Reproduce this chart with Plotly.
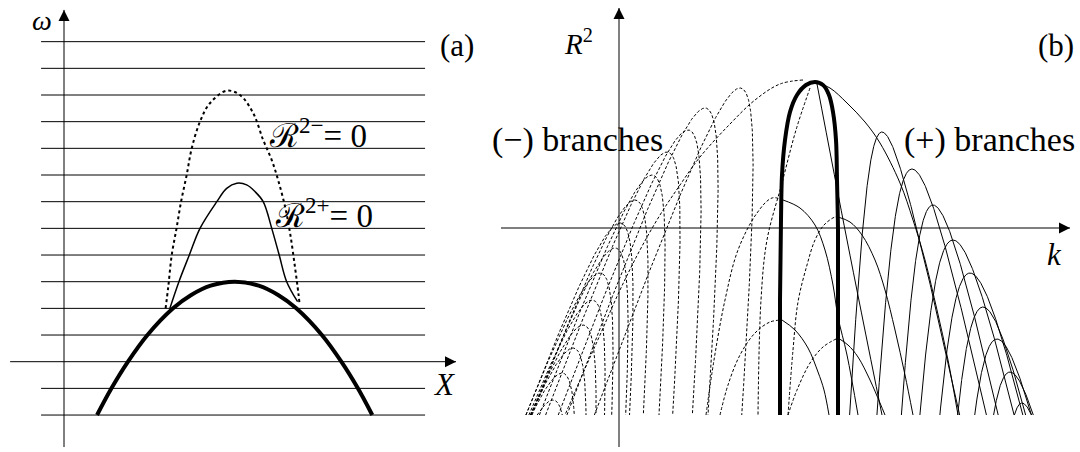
import numpy as np
import plotly.graph_objects as go

# ---------------- panel (a) data : omega vs X ----------------
levels_omega = [-2, -1, 1, 2, 3, 4, 5, 6, 7, 8, 9, 10, 11, 12]
level_X_span = [-0.86, 13.54]
axis_a_X = [-2.02, 14.7]        # X axis extent (at omega = 0)
axis_a_omega = [-3.2, 13.19]    # omega axis extent (at X = 0)

thick_X = [1.24, 1.78, 2.4, 3.13, 4.09, 4.77, 5.5, 6.4, 7.3, 8.03, 8.71, 9.67, 10.4, 11.02, 11.56]
thick_omega = [-2, -1, 0, 1, 2, 2.5, 2.85, 3.0, 2.85, 2.5, 2, 1, 0, -1, -2]

rminus_X = [3.81, 3.91, 4.04, 4.22, 4.39, 4.60, 4.79, 5.10, 5.47, 6.10, 6.60, 7.10, 7.47, 7.79, 8.03, 8.29, 8.48, 8.66, 8.79, 8.83]
rminus_omega = [2.00, 2.81, 4.00, 5.00, 6.00, 7.00, 8.00, 9.00, 9.69, 10.16, 10.0, 9.31, 8.31, 7.56, 6.81, 5.81, 4.81, 3.56, 2.56, 2.19]

rplus_X = [3.97, 4.31, 4.70, 5.10, 5.73, 6.10, 6.48, 6.85, 7.16, 7.47, 7.79, 8.07, 8.35, 8.76]
rplus_omega = [2.0, 3.0, 4.0, 5.0, 6.0, 6.5, 6.69, 6.63, 6.38, 6.0, 5.0, 4.0, 3.0, 2.25]

# ---------------- panel (b) data : R^2 vs k ----------------
R2_bottom = -18.7
axis_b_k = [-11.8, 45.1]
axis_b_R2 = [-21.9, 22.0]
# (+) branches: peak position and steep-leg position
plus_peak_k = [26.3, 29.3, 31.4, 33.4, 35.1, 36.4, 37.8, 39.1, 40.3]
plus_peak_R2 = [9.6, 5.9, 2.3, -1.2, -4.5, -7.9, -11.1, -14.4, -17.5]
plus_asym_k = [24.9, 27.4, 29.6, 31.1, 32.8, 34.3, 35.6, 37.1, 38.9]
plus_legs = (-0.05, 0.21)      # slopes dk/d(-R2) of the steep and slanted legs
# (-) branches: peak position
minus_peak_k = [12.1, 8.6, 6.9, 4.8, 3.3, 1.6, 0.1, -0.4, -1.9, -2.7, -3.6, -4.6, -5.7, -6.6]
minus_peak_R2 = [14.0, 12.0, 9.8, 7.6, 5.3, 2.8, 0.5, -2.0, -4.5, -7.2, -9.7, -12.0, -14.5, -17.2]
minus_legs = (-0.08, -0.36)
minus_round = 13.0

thickb_k = [16.1, 16.1, 16.2, 16.3, 16.6, 17.1, 17.8, 18.7, 19.6, 20.4, 21.0, 21.4, 21.7, 21.8, 21.9, 21.9, 21.9]
thickb_R2 = [-18.7, -7.2, 0.8, 5.3, 8.8, 11.6, 13.3, 14.3, 14.6, 14.3, 13.3, 11.6, 8.8, 4.8, -0.2, -7.2, -18.7]

top_plus_arc_k = [19.7, 21.1, 22.8, 24.6, 26.1, 28.1, 29.4, 30.6, 31.8, 32.9, 33.9]
top_plus_arc_R2 = [14.6, 14.0, 12.5, 10.6, 8.5, 4.5, 0.8, -3.2, -8.2, -13.2, -18.7]
top_plus_steep_k = [19.8, 22.8, 26.3]
top_plus_steep_R2 = [14.4, -1.2, -18.7]
top_minus_arc_k = [18.4, 16.1, 13.6, 11.1, 8.1, 6.1, 4.1, 2.1, 0.1, -1.9, -3.9, -5.4]
top_minus_arc_R2 = [14.8, 14.4, 12.8, 10.4, 7.1, 4.3, 1.3, -2.2, -6.2, -10.7, -15.2, -18.7]
top_minus_steep_k = [19.1, 17.7, 16.3, 14.8, 14.2, 13.9]
top_minus_steep_R2 = [14.0, 9.8, 4.5, -1.2, -7.2, -18.7]

mixed_dash_k = [
    [8.7, 9.5, 10.6, 11.9, 13.8, 15.3, 16.4],
    [16.9, 17.4, 17.9, 18.8, 19.6, 20.5, 21.6, 21.9],
    [10.1, 10.9, 12.1, 13.6, 15.1, 16.3],
    [16.9, 17.8, 19.1, 20.4, 21.9],
]
mixed_dash_R2 = [
    [-18.7, -13.2, -7.2, -2.2, 1.5, 3.0, 2.8],
    [-18.7, -12.2, -7.4, -3.7, -1.2, 0.3, 1.1, 1.1],
    [-18.7, -15.7, -12.7, -10.5, -9.4, -9.2],
    [-18.7, -16.2, -13.5, -11.9, -11.0],
]
mixed_solid_k = [
    [16.4, 18.1, 19.6, 20.6, 21.4, 21.9, 22.8, 23.9],
    [21.9, 23.1, 24.3, 25.6, 26.6, 27.6, 28.6, 29.4],
    [16.3, 17.6, 18.9, 19.9, 20.5, 21.0],
    [21.9, 22.9, 23.9, 25.1, 26.1, 26.6],
]
mixed_solid_R2 = [
    [2.8, 2.0, 0.3, -2.2, -5.7, -8.9, -12.7, -18.7],
    [1.1, 0.6, -0.7, -3.2, -6.2, -10.2, -14.7, -18.7],
    [-9.2, -10.2, -12.0, -14.4, -16.2, -18.7],
    [-11.0, -11.7, -12.9, -15.2, -17.5, -18.7],
]


def arch(kp, rp, s1, s2, q, rmin):
    """hyperbolic arch with peak (kp, rp) and leg slopes s1 (steep) and s2 (slanted)"""
    kc = kp - q * (s1 + s2)
    rc = rp + 2 * q
    tmax = np.arccosh((rc - rmin) / (2 * q))
    tau = np.linspace(-tmax, tmax, 300)
    k = kc + q * (s1 * np.exp(tau) + s2 * np.exp(-tau))
    r = rc - 2 * q * np.cosh(tau)
    return list(k), list(r)


def join(list_k, list_r):
    K, R = [], []
    for a, b in zip(list_k, list_r):
        K += list(a) + [None]
        R += list(b) + [None]
    return K, R


FONT = "Liberation Serif"
fig = go.Figure()

# ---- panel (a)
lx, ly = [], []
for w in levels_omega:
    lx += [level_X_span[0], level_X_span[1], None]
    ly += [w, w, None]
lx += [axis_a_X[0], axis_a_X[1], None, 0, 0]
ly += [0, 0, None, axis_a_omega[0], axis_a_omega[1]]
fig.add_trace(go.Scatter(x=lx, y=ly, mode="lines", line=dict(color="black", width=1),
                         xaxis="x", yaxis="y", hoverinfo="skip"))
fig.add_trace(go.Scatter(x=[axis_a_X[1], 0], y=[0, axis_a_omega[1]], mode="markers",
                         marker=dict(symbol=["arrow-right", "arrow-up"], size=11, color="black"),
                         xaxis="x", yaxis="y"))
fig.add_trace(go.Scatter(x=rminus_X, y=rminus_omega, mode="lines", line=dict(color="black", width=2, dash="dot", shape="spline"),
                         xaxis="x", yaxis="y"))
fig.add_trace(go.Scatter(x=rplus_X, y=rplus_omega, mode="lines", line=dict(color="black", width=1.5, shape="spline"),
                         xaxis="x", yaxis="y"))
fig.add_trace(go.Scatter(x=thick_X, y=thick_omega, mode="lines", line=dict(color="black", width=4, shape="spline"),
                         xaxis="x", yaxis="y"))

# ---- panel (b)
sk, sr = [], []
for kp, rp, ka in zip(plus_peak_k, plus_peak_R2, plus_asym_k):
    q = (kp - ka) / (plus_legs[0] + plus_legs[1])
    a, b = arch(kp, rp, plus_legs[0], plus_legs[1], q, R2_bottom)
    sk.append(a); sr.append(b)
dk, dr = [], []
for kp, rp in zip(minus_peak_k, minus_peak_R2):
    a, b = arch(kp, rp, minus_legs[0], minus_legs[1], minus_round, R2_bottom)
    dk.append(a); dr.append(b)

SK, SR = join(sk, sr)
DK, DR = join(dk, dr)
fig.add_trace(go.Scatter(x=[axis_b_k[0], axis_b_k[1], None, 0, 0], y=[0, 0, None, axis_b_R2[0], axis_b_R2[1]],
                         mode="lines", line=dict(color="black", width=1), xaxis="x2", yaxis="y2"))
fig.add_trace(go.Scatter(x=[axis_b_k[1], 0], y=[0, axis_b_R2[1]], mode="markers",
                         marker=dict(symbol=["arrow-right", "arrow-up"], size=11, color="black"),
                         xaxis="x2", yaxis="y2"))
fig.add_trace(go.Scatter(x=DK, y=DR, mode="lines", line=dict(color="black", width=1, dash="3px,2px"),
                         xaxis="x2", yaxis="y2"))
fig.add_trace(go.Scatter(x=SK, y=SR, mode="lines", line=dict(color="black", width=1),
                         xaxis="x2", yaxis="y2"))

ek, er = join([top_minus_arc_k, top_minus_steep_k] + mixed_dash_k, [top_minus_arc_R2, top_minus_steep_R2] + mixed_dash_R2)
fig.add_trace(go.Scatter(x=ek, y=er, mode="lines", line=dict(color="black", width=1, dash="3px,2px", shape="spline"),
                         xaxis="x2", yaxis="y2"))
ek, er = join([top_plus_arc_k, top_plus_steep_k] + mixed_solid_k, [top_plus_arc_R2, top_plus_steep_R2] + mixed_solid_R2)
fig.add_trace(go.Scatter(x=ek, y=er, mode="lines", line=dict(color="black", width=1, shape="spline"),
                         xaxis="x2", yaxis="y2"))
fig.add_trace(go.Scatter(x=thickb_k, y=thickb_R2, mode="lines", line=dict(color="black", width=4, shape="spline"),
                         xaxis="x2", yaxis="y2"))


def txt(xr, yr, x, y, s, size=30, xanchor="center"):
    return dict(x=x, y=y, xref=xr, yref=yr, text=s, showarrow=False, xanchor=xanchor, yanchor="middle",
                font=dict(family=FONT, size=size, color="black"))

ann = [
    txt("x", "y", -0.82, 12.81, "<i>ω</i>", 28),
    txt("x", "y", 14.74, 11.84, "(a)", 31),
    txt("x", "y", 14.25, -0.87, "<i>X</i>", 31),
    txt("x", "y", 7.6, 8.57, "ℛ<sup>2−</sup>= 0", 33, "left"),
    txt("x", "y", 7.85, 5.57, "ℛ<sup>2+</sup>= 0", 33, "left"),
    txt("x2", "y2", -4.1, 18.6, "<i>R</i><sup>2</sup>", 29),
    txt("x2", "y2", 45.7, 18.3, "(b)", 31, "right"),
    txt("x2", "y2", 43.5, -2.6, "<i>k</i>", 31),
    txt("x2", "y2", -12.9, 8.8, "(−) branches", 34, "left"),
    txt("x2", "y2", 28.3, 8.8, "(+) branches", 34, "left"),
]

ax_common = dict(visible=False, showgrid=False, zeroline=False, fixedrange=True)
fig.update_layout(
    width=1080, height=452, margin=dict(l=0, r=0, t=0, b=0),
    paper_bgcolor="white", plot_bgcolor="white", showlegend=False,
    xaxis=dict(domain=[0, 480 / 1080], range=[-2.4, 15.6], **ax_common),
    yaxis=dict(domain=[0, 1], range=[-3.386, 13.562], **ax_common),
    xaxis2=dict(domain=[480 / 1080, 1], range=[-13.9, 46.1], **ax_common),
    yaxis2=dict(domain=[0, 1], range=[-22.4, 22.8], anchor="x2", **ax_common),
    annotations=ann,
)
fig.write_html("out.html", config={"displayModeBar": False},
               post_script="document.body.style.margin='0';document.body.style.overflow='hidden';")
